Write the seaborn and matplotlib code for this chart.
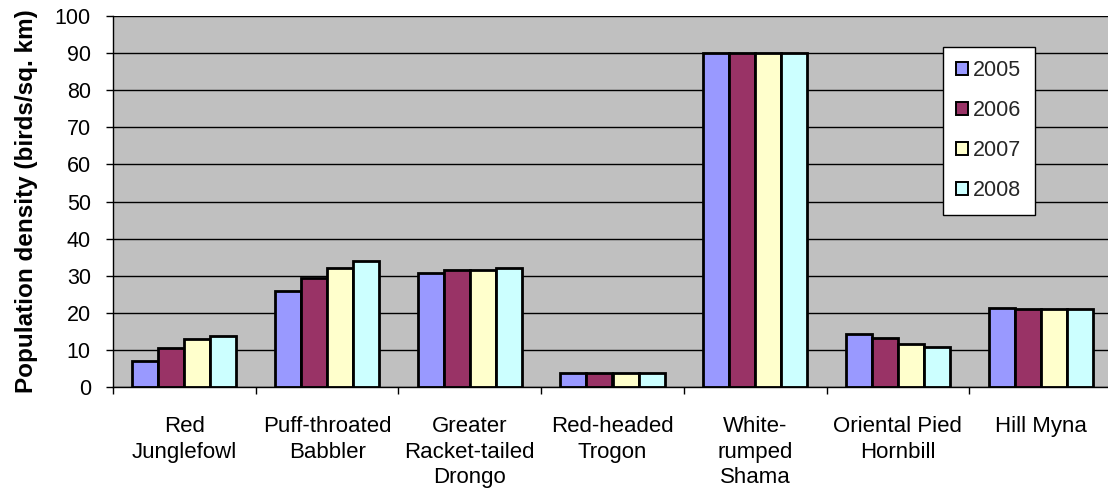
import numpy as np
import pandas as pd
import matplotlib
matplotlib.use("Agg")
import matplotlib.pyplot as plt
from matplotlib.ticker import FixedLocator, MultipleLocator
import seaborn as sns

species = [
    "Red\nJunglefowl",
    "Puff-throated\nBabbler",
    "Greater\nRacket-tailed\nDrongo",
    "Red-headed\nTrogon",
    "White-\nrumped\nShama",
    "Oriental Pied\nHornbill",
    "Hill Myna",
]
years = ["2005", "2006", "2007", "2008"]
density_2005 = [7.0, 25.8, 30.8, 3.8, 90.0, 14.2, 21.3]
density_2006 = [10.4, 29.4, 31.6, 3.8, 90.0, 13.1, 20.9]
density_2007 = [12.9, 32.0, 31.6, 3.8, 90.0, 11.7, 20.9]
density_2008 = [13.8, 34.0, 32.0, 3.8, 90.0, 10.7, 20.9]
colors = ["#9999FF", "#993366", "#FFFFCC", "#CCFFFF"]

series = [density_2005, density_2006, density_2007, density_2008]
df = pd.DataFrame({
    "species": [s for _ in years for s in species],
    "year": [y for y in years for _ in species],
    "density": [v for vals in series for v in vals],
})

sns.set_theme(style="white")
plt.rcParams["font.family"] = ["Liberation Sans", "DejaVu Sans"]

W, H = 1108, 493
fig = plt.figure(figsize=(W / 100, H / 100), dpi=100)
left, right, top, bottom = 113, 1112, 16, 387
ax = fig.add_axes([left / W, (H - bottom) / H, (right - left) / W, (bottom - top) / H])
ax.set_facecolor("#C0C0C0")

sns.barplot(
    data=df, x="species", y="density", hue="year", order=species,
    hue_order=years, palette=colors, saturation=1, width=0.73, gap=0,
    edgecolor="black", linewidth=2.0, ax=ax, errorbar=None, zorder=3,
    legend=True,
)

ax.set_ylim(0, 100)
ax.set_xlim(-0.5, len(species) - 0.5)
ax.yaxis.set_major_locator(MultipleLocator(10))
ax.grid(axis="y", color="black", linewidth=1.0, zorder=1)
ax.set_axisbelow(True)

for side in ["top", "right"]:
    ax.spines[side].set_visible(False)
for side in ["left", "bottom"]:
    ax.spines[side].set_color("black")
    ax.spines[side].set_linewidth(1.0)
    ax.spines[side].set_zorder(4)

ax.tick_params(axis="y", which="major", left=True, length=5, width=1,
               color="black", labelsize=15.5, pad=11, labelcolor="black")
ax.set_xticks(range(len(species)))
ax.set_xticklabels(species, fontsize=16, linespacing=1.28, color="black")
ax.tick_params(axis="x", which="major", bottom=False, pad=15)
ax.xaxis.set_minor_locator(FixedLocator(np.arange(-0.5, len(species), 1.0)))
ax.tick_params(axis="x", which="minor", bottom=True, length=5, width=1, color="black")

ax.set_xlabel("")
ax.set_ylabel("Population density (birds/sq. km)", fontsize=17.5,
              fontweight="bold", color="black", labelpad=12)

handles, labels = ax.get_legend_handles_labels()
leg = ax.legend(
    handles, labels, loc="upper left",
    bbox_to_anchor=((943 - left) / (right - left), 1 - (47 - top) / (bottom - top)),
    frameon=True, fancybox=False, framealpha=1, edgecolor="black",
    facecolor="white", fontsize=15.5, handlelength=0.56, handleheight=0.56,
    handletextpad=0.22, labelspacing=0.88, borderpad=0.62, borderaxespad=0,
)
leg.get_frame().set_linewidth(1.0)
for h in leg.legend_handles:
    h.set_linewidth(1.4)

fig.savefig("out.png", dpi=100)
